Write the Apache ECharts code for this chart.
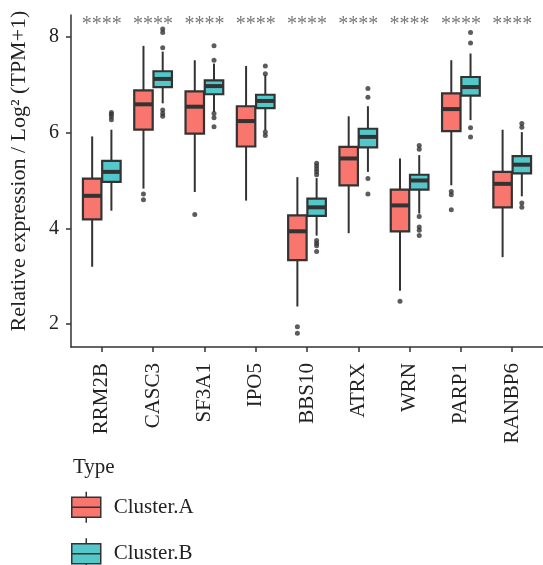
<!DOCTYPE html>
<html>
<head>
<meta charset="utf-8">
<script src="https://cdn.jsdelivr.net/npm/echarts@6/dist/echarts.min.js"></script>
<style>
  html, body { margin: 0; padding: 0; background: #fff; }
  #chart { width: 543px; height: 565px; }
</style>
</head>
<body>
<div id="chart"></div>
<script>
// genes on the x axis
const genes = ['RRM2B', 'CASC3', 'SF3A1', 'IPO5', 'BBS10', 'ATRX', 'WRN', 'PARP1', 'RANBP6'];
const sigLabels = ['****', '****', '****', '****', '****', '****', '****', '****', '****'];
const yTicks = [2, 4, 6, 8];

// five-number summaries: [min, Q1, median, Q3, max]
const clusterA = [
  [3.20, 4.19, 4.68, 5.04, 5.92],
  [4.83, 6.06, 6.59, 6.88, 7.81],
  [4.76, 5.98, 6.54, 6.86, 7.51],
  [4.58, 5.71, 6.24, 6.55, 7.39],
  [2.37, 3.34, 3.94, 4.27, 5.07],
  [3.90, 4.90, 5.46, 5.70, 6.34],
  [2.70, 3.94, 4.48, 4.81, 5.46],
  [4.90, 6.03, 6.49, 6.82, 7.51],
  [3.40, 4.44, 4.93, 5.18, 6.06]
];
const clusterB = [
  [4.37, 4.97, 5.18, 5.41, 6.06],
  [6.61, 6.95, 7.12, 7.28, 7.69],
  [6.43, 6.80, 6.97, 7.09, 7.44],
  [6.05, 6.51, 6.66, 6.79, 7.20],
  [3.85, 4.26, 4.44, 4.62, 5.05],
  [5.18, 5.69, 5.91, 6.08, 6.55],
  [4.31, 4.81, 5.00, 5.12, 5.53],
  [6.26, 6.77, 6.95, 7.16, 7.65],
  [4.67, 5.15, 5.33, 5.51, 6.01]
];

// outliers per gene
const outliersA = [
  [],
  [4.72, 4.60],
  [4.29],
  [],
  [1.95, 1.81],
  [],
  [2.48],
  [4.77, 4.70, 4.39],
  []
];
const outliersB = [
  [6.42, 6.38, 6.33, 6.27],
  [8.16, 8.09, 7.77, 6.47, 6.40, 6.34],
  [7.81, 7.51, 6.40, 6.31, 6.12],
  [7.39, 7.23, 6.01, 5.94],
  [5.36, 5.30, 5.24, 5.18, 5.12, 3.75, 3.69, 3.64, 3.52],
  [6.92, 6.74, 5.04, 4.72],
  [5.73, 5.65, 4.25, 4.03, 3.96, 3.85],
  [8.09, 7.87, 6.10, 5.91],
  [6.19, 6.11, 4.53, 4.44]
];

const colorA = '#F8766D';
const colorB = '#52C8CB';
const ink = '#333333';
const serif = 'Liberation Serif';
const dodge = 0.1875;   // half of the dodge width, in category units
const halfBox = 0.18;

const chart = echarts.init(document.getElementById('chart'));

function boxData(stats, dx) {
  return stats.map((s, i) => [i + 1 + dx].concat(s));
}
function outlierData(list, dx) {
  const out = [];
  list.forEach((vals, i) => vals.forEach(v => out.push([i + 1 + dx, v])));
  return out;
}

function renderBox(params, api) {
  const x = api.value(0);
  const lo = api.coord([x, api.value(1)]);
  const q1 = api.coord([x, api.value(2)]);
  const md = api.coord([x, api.value(3)]);
  const q3 = api.coord([x, api.value(4)]);
  const hi = api.coord([x, api.value(5)]);
  const hw = api.size([halfBox, 0])[0];
  const cx = lo[0];
  const fill = api.visual('color');
  return {
    type: 'group',
    children: [
      { type: 'line', shape: { x1: cx, y1: hi[1], x2: cx, y2: q3[1] }, style: { stroke: ink, lineWidth: 2 } },
      { type: 'line', shape: { x1: cx, y1: q1[1], x2: cx, y2: lo[1] }, style: { stroke: ink, lineWidth: 2 } },
      { type: 'rect', shape: { x: cx - hw, y: q3[1], width: hw * 2, height: q1[1] - q3[1] },
        style: { fill: fill, stroke: ink, lineWidth: 2.2 } },
      { type: 'line', shape: { x1: cx - hw, y1: md[1], x2: cx + hw, y2: md[1] }, style: { stroke: ink, lineWidth: 4 } }
    ]
  };
}

const legendIcon = 'path://M14.5,0L14.5,5.5M0,5.5L29,5.5L29,25.5L0,25.5ZM0,15.5L29,15.5M14.5,25.5L14.5,31';

const option = {
  animation: false,
  textStyle: { fontFamily: serif },
  title: {
    text: 'Type', left: 68, top: 452,
    textStyle: { fontFamily: serif, fontSize: 21, fontWeight: 'normal', color: '#222' }
  },
  legend: {
    data: ['Cluster.A', 'Cluster.B'],
    orient: 'vertical', left: 71, top: 491, height: 120, padding: 0,
    itemWidth: 29, itemHeight: 31, itemGap: 14,
    icon: legendIcon,
    itemStyle: { borderColor: ink, borderWidth: 1.5 },
    textStyle: { fontFamily: serif, fontSize: 21, color: '#222', padding: [0, 0, 0, 8] }
  },
  grid: { left: 71, top: 15, bottom: 218, right: -3, containLabel: false },
  xAxis: {
    type: 'value', min: 0.4, max: 9.6,
    splitLine: { show: false },
    axisLine: { lineStyle: { color: ink, width: 1.5 } },
    axisTick: { length: 5, lineStyle: { color: ink, width: 1.5 }, customValues: genes.map((g, i) => i + 1) },
    axisLabel: {
      customValues: genes.map((g, i) => i + 1),
      formatter: v => genes[Math.round(v) - 1],
      rotate: 90, margin: 16, fontSize: 21, color: '#222', fontFamily: serif
    }
  },
  yAxis: {
    type: 'value', min: 1.525, max: 8.454,
    name: 'Relative expression / Log\u00B2 (TPM+1)',
    nameLocation: 'middle', nameGap: 41,
    nameTextStyle: { fontFamily: serif, fontSize: 22, color: '#222', padding: [0, 0, 0, 20] },
    splitLine: { show: false },
    axisLine: { show: true, lineStyle: { color: ink, width: 1.5 } },
    axisTick: { show: true, length: 5, lineStyle: { color: ink, width: 1.5 }, customValues: yTicks },
    axisLabel: { customValues: yTicks, fontSize: 20, color: '#222', margin: 12, fontFamily: serif }
  },
  series: [
    {
      name: 'Cluster.A', type: 'custom', renderItem: renderBox,
      itemStyle: { color: colorA },
      encode: { x: 0, y: [1, 2, 3, 4, 5] },
      data: boxData(clusterA, -dodge), z: 2
    },
    {
      name: 'Cluster.B', type: 'custom', renderItem: renderBox,
      itemStyle: { color: colorB },
      encode: { x: 0, y: [1, 2, 3, 4, 5] },
      data: boxData(clusterB, dodge), z: 2
    },
    {
      name: 'outA', type: 'scatter', symbolSize: 5,
      itemStyle: { color: ink }, data: outlierData(outliersA, -dodge), z: 3
    },
    {
      name: 'outB', type: 'scatter', symbolSize: 5,
      itemStyle: { color: ink }, data: outlierData(outliersB, dodge), z: 3
    },
    {
      name: 'sig', type: 'scatter', symbolSize: 0,
      data: sigLabels.map((s, i) => [i + 1, 8.26]),
      label: {
        show: true, position: 'inside',
        formatter: p => sigLabels[p.dataIndex],
        fontSize: 20, color: '#555', fontFamily: serif
      }
    }
  ]
};

chart.setOption(option);
window.addEventListener('resize', () => chart.resize());
</script>
</body>
</html>
